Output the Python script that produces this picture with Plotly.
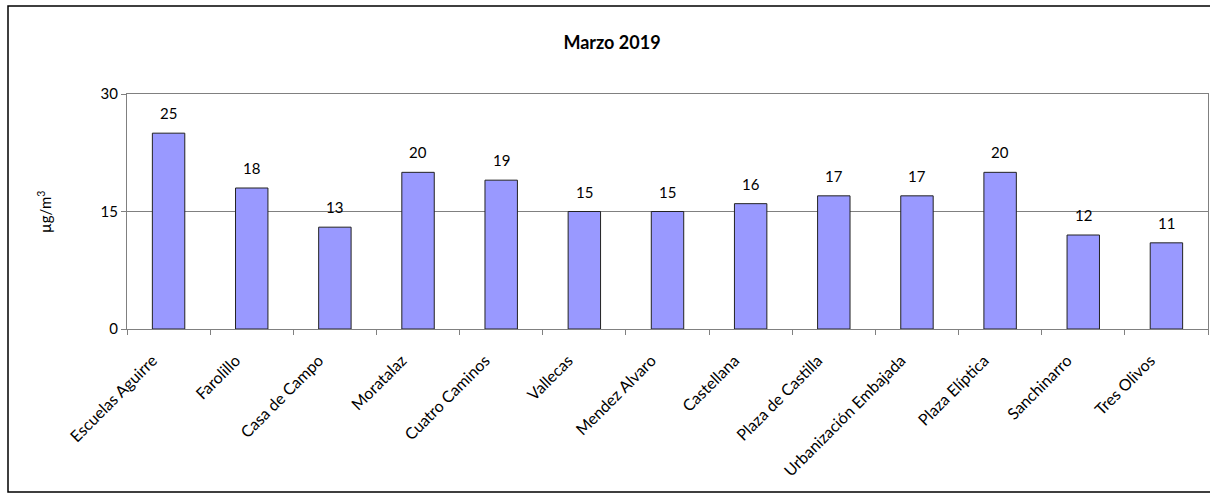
import plotly.graph_objects as go

stations = ["Escuelas Aguirre", "Farolillo", "Casa de Campo", "Moratalaz", "Cuatro Caminos",
            "Vallecas", "Mendez Alvaro", "Castellana", "Plaza de Castilla",
            "Urbanización Embajada", "Plaza Elíptica", "Sanchinarro", "Tres Olivos"]
values = [25, 18, 13, 20, 19, 15, 15, 16, 17, 17, 20, 12, 11]
y_ticks = [0, 15, 30]

FONT = "Lato, 'Open Sans', sans-serif"

fig = go.Figure()
fig.add_trace(go.Bar(
    x=stations, y=values,
    marker=dict(color="#9999FF", line=dict(color="#222222", width=1)),
    width=0.39, hoverinfo="x+y",
))

for s, v in zip(stations, values):
    fig.add_annotation(x=s, y=v, text=str(v), showarrow=False, yanchor="bottom",
                       yshift=9, font=dict(size=15, family=FONT, color="#000000"))

W, H = 1210, 497
L, R, T, B = 127, 2, 94, 168
pw, ph = W - L - R, H - T - B

def px2x(p):
    return (p - L) / pw

def py2y(p):
    return (H - B - p) / ph

fig.add_shape(type="rect", xref="paper", yref="paper",
              x0=px2x(8), x1=px2x(1215), y0=py2y(492), y1=py2y(6),
              line=dict(color="#000000", width=1.5), fillcolor="rgba(0,0,0,0)", layer="below")

fig.add_annotation(text="µg/m<sup>3</sup>", xref="paper", yref="paper",
                   x=px2x(44), y=py2y(212), textangle=-90, showarrow=False,
                   xanchor="center", yanchor="middle",
                   font=dict(size=15, family=FONT, color="#000000"))

fig.update_layout(
    width=W, height=H,
    margin=dict(l=L, r=R, t=T, b=B),
    paper_bgcolor="white", plot_bgcolor="white",
    showlegend=False,
    font=dict(family=FONT, size=15, color="#000000"),
    title=dict(text="<b>Marzo 2019</b>", x=612 / W, xref="container", xanchor="center",
               y=1 - 43 / H, yanchor="middle", font=dict(size=18, family=FONT)),
    xaxis=dict(
        tickangle=-45, tickson="boundaries", ticks="outside", ticklen=5, tickcolor="#808080",
        showline=True, linecolor="#808080", linewidth=1, mirror=True,
        ticklabelstandoff=15, ticklabelshift=-16,
        showgrid=False, tickfont=dict(size=16, family=FONT), range=[-0.5, 12.5],
    ),
    yaxis=dict(
        range=[0, 30], tickvals=y_ticks, ticks="outside", ticklen=5, tickcolor="#808080",
        showline=True, linecolor="#808080", linewidth=1, mirror=True,
        showgrid=True, gridcolor="#808080", gridwidth=1, zeroline=False,
        tickfont=dict(size=15, family=FONT),
    ),
)

fig.write_html("out.html", config={"displayModeBar": False},
               post_script="document.body.style.margin='0px';document.body.style.overflow='hidden';")
